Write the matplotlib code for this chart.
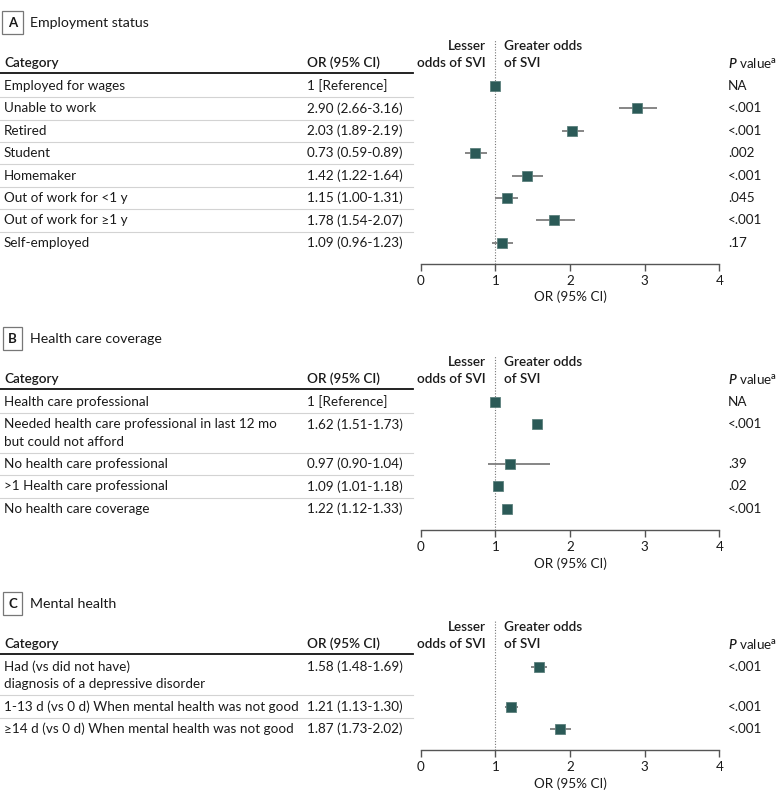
import numpy as np
import matplotlib.pyplot as plt
from matplotlib.transforms import blended_transform_factory

plt.rcParams['font.family'] = ['Lato', 'DejaVu Sans']
plt.rcParams['mathtext.fontset'] = 'custom'
plt.rcParams['mathtext.rm'] = 'Lato:semibold'
plt.rcParams['mathtext.it'] = 'Lato:semibold:italic'

# A: employment status
emp_labels = ['Employed for wages', 'Unable to work', 'Retired', 'Student', 'Homemaker',
              'Out of work for <1 y', 'Out of work for \u22651 y', 'Self-employed']
emp_or = ['1 [Reference]', '2.90 (2.66-3.16)', '2.03 (1.89-2.19)', '0.73 (0.59-0.89)',
          '1.42 (1.22-1.64)', '1.15 (1.00-1.31)', '1.78 (1.54-2.07)', '1.09 (0.96-1.23)']
emp_p = ['NA', '<.001', '<.001', '.002', '<.001', '.045', '<.001', '.17']
emp_est = [1.00, 2.90, 2.03, 0.73, 1.42, 1.15, 1.78, 1.09]
emp_lo = [np.nan, 2.66, 1.89, 0.59, 1.22, 1.00, 1.54, 0.96]
emp_hi = [np.nan, 3.16, 2.19, 0.89, 1.64, 1.31, 2.07, 1.23]

# B: health care coverage (markers as drawn in the figure)
hc_labels = ['Health care professional',
             'Needed health care professional in last 12 mo\nbut could not afford',
             'No health care professional', '>1 Health care professional',
             'No health care coverage']
hc_or = ['1 [Reference]', '1.62 (1.51-1.73)', '0.97 (0.90-1.04)', '1.09 (1.01-1.18)',
         '1.22 (1.12-1.33)']
hc_p = ['NA', '<.001', '.39', '.02', '<.001']
hc_est = [1.00, 1.56, 1.20, 1.04, 1.16]
hc_lo = [np.nan, 1.51, 0.90, 1.00, 1.12]
hc_hi = [np.nan, 1.62, 1.73, 1.08, 1.20]

# C: mental health
mh_labels = ['Had (vs did not have)\ndiagnosis of a depressive disorder',
             '1-13 d (vs 0 d) When mental health was not good',
             '\u226514 d (vs 0 d) When mental health was not good']
mh_or = ['1.58 (1.48-1.69)', '1.21 (1.13-1.30)', '1.87 (1.73-2.02)']
mh_p = ['<.001', '<.001', '<.001']
mh_est = [1.58, 1.21, 1.87]
mh_lo = [1.48, 1.13, 1.73]
mh_hi = [1.69, 1.30, 2.02]

W, H = 780, 791
UNIT = 22.4   # px per row
LINE = 0.77   # second line offset, in rows
X0, X4 = 420.7, 719.3
TXT = '#1a1a1a'
MARK = '#2b5a57'
FS = 9.7

fig = plt.figure(figsize=(W / 100, H / 100), dpi=100)


def panel(letter, title, first_px, labels, or_txt, p_txt, est, lo, hi):
    nl = [len(s.split('\n')) for s in labels]
    pos = []
    y = 0.0
    for n in nl:
        pos.append(y)
        y += 1 + LINE * (n - 1)
    top = -2.1
    bottom = pos[-1] + LINE * (nl[-1] - 1) + 0.93
    top_px = first_px + top * UNIT
    h_px = (bottom - top) * UNIT
    ax = fig.add_axes([X0 / W, 1 - (top_px + h_px) / H, (X4 - X0) / W, h_px / H])
    ax.set_xlim(0, 4)
    ax.set_ylim(bottom, top)
    tr = blended_transform_factory(fig.transFigure, ax.transData)

    # panel title
    ax.text(12.5 / W, -2.82, letter, transform=tr, ha='center', va='center',
            fontsize=9.5, fontweight='bold', color=TXT,
            bbox=dict(boxstyle='square,pad=0.42', fc='white', ec='#777', lw=0.9))
    ax.text(30 / W, -2.82, title, transform=tr, ha='left', va='center',
            fontsize=10.2, color=TXT)

    # headers
    hdr = dict(transform=tr, va='center', fontsize=FS, fontweight='semibold', color=TXT)
    ax.text(4 / W, -1.02, 'Category', **hdr)
    ax.text(307 / W, -1.02, 'OR (95% CI)', **hdr)
    ax.text(486 / W, -1.79, 'Lesser', ha='right', **hdr)
    ax.text(486 / W, -1.02, 'odds of SVI', ha='right', **hdr)
    ax.text(504 / W, -1.79, 'Greater odds', ha='left', **hdr)
    ax.text(504 / W, -1.02, 'of SVI', ha='left', **hdr)
    ax.text(728 / W, -1.02, r'$\it{P}$ value$^{\rm a}$', transform=tr, va='center',
            fontsize=FS, color=TXT)
    ax.plot([0, 413 / W], [-0.58, -0.58], transform=tr, color='#111', lw=1.3,
            clip_on=False)

    # rows
    for i, (lab, o, p) in enumerate(zip(labels, or_txt, p_txt)):
        for k, part in enumerate(lab.split('\n')):
            ax.text(4 / W, pos[i] + k * LINE, part, transform=tr, va='center',
                    fontsize=FS, color=TXT)
        ax.text(307 / W, pos[i], o, transform=tr, va='center', fontsize=FS, color=TXT)
        ax.text(728 / W, pos[i], p, transform=tr, va='center', fontsize=FS, color=TXT)
        if i < len(labels) - 1:
            ysep = pos[i] + LINE * (nl[i] - 1) + 0.5
            ax.plot([0, 413 / W], [ysep, ysep], transform=tr, color='#d3d3d3',
                    lw=0.8, clip_on=False)

    ax.axvline(1, color='#777', ls=(0, (1, 1.5)), lw=0.8, zorder=1)
    ax.hlines(pos, lo, hi, color='#7d7d7d', lw=1.3, zorder=2)
    ax.plot(est, pos, 's', ms=6.8, mfc=MARK, mec='#5d807d', mew=0.6, ls='none',
            zorder=3)

    for s in ['top', 'left', 'right']:
        ax.spines[s].set_visible(False)
    ax.spines['bottom'].set_color('#555')
    ax.spines['bottom'].set_linewidth(1.0)
    ax.set_yticks([])
    ax.set_xticks([0, 1, 2, 3, 4])
    ax.tick_params(axis='x', direction='out', length=5, width=1.0, color='#555',
                   labelsize=FS, labelcolor=TXT, pad=3)
    ax.set_xlabel('OR (95% CI)', fontsize=FS, color=TXT, labelpad=3)
    ax.patch.set_alpha(0)
    return ax


panel('A', 'Employment status', 86, emp_labels, emp_or, emp_p, emp_est, emp_lo, emp_hi)
panel('B', 'Health care coverage', 402, hc_labels, hc_or, hc_p, hc_est, hc_lo, hc_hi)
panel('C', 'Mental health', 667, mh_labels, mh_or, mh_p, mh_est, mh_lo, mh_hi)

fig.savefig('out.png', dpi=100)
